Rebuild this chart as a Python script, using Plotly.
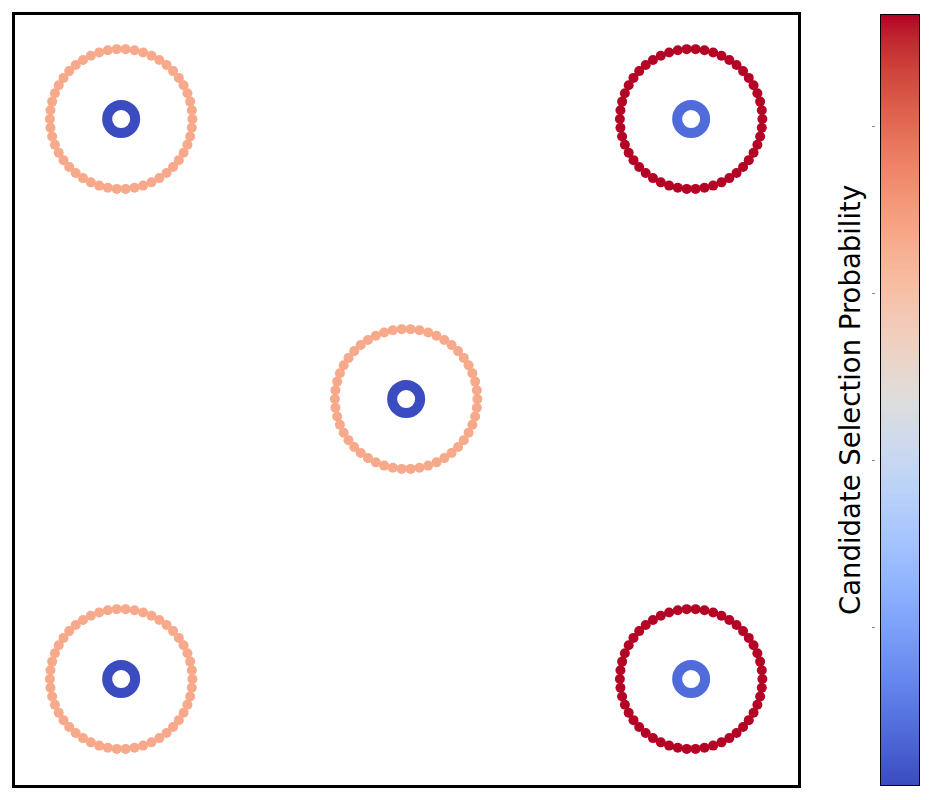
import numpy as np
import plotly.graph_objects as go

# ---- data ----
cluster_x = [-2, 2, 0, -2, 2]
cluster_y = [2, 2, 0, -2, -2]
center_prob = [0.011, 0.076, 0.011, 0.011, 0.076]   # centre marker values
ring_prob = [0.666, 0.934, 0.666, 0.666, 0.934]     # ring candidate values
ring_radius = 0.5
ring_points = 50
vmin, vmax = 0.011, 0.934
cbar_ticks = [0.2, 0.4, 0.6, 0.8]
cbar_title = "Candidate Selection Probability"

coolwarm_data = [
    [0.0, 0.2298057, 0.298717966, 0.753683153],
    [0.03125, 0.26623388, 0.353094838, 0.801466763],
    [0.0625, 0.30386891, 0.406535296, 0.84495867],
    [0.09375, 0.342804478, 0.458757618, 0.883725899],
    [0.125, 0.38301334, 0.50941904, 0.917387822],
    [0.15625, 0.424369608, 0.558148092, 0.945619588],
    [0.1875, 0.46666708, 0.604562568, 0.968154911],
    [0.21875, 0.509635204, 0.648280772, 0.98478814],
    [0.25, 0.552953156, 0.688929332, 0.995375608],
    [0.28125, 0.596262162, 0.726149107, 0.999836203],
    [0.3125, 0.639176211, 0.759599947, 0.998151185],
    [0.34375, 0.681291281, 0.788964712, 0.990363227],
    [0.375, 0.722193294, 0.813952739, 0.976574709],
    [0.40625, 0.761464949, 0.834302879, 0.956945269],
    [0.4375, 0.798691636, 0.849786142, 0.931688648],
    [0.46875, 0.833466556, 0.860207984, 0.901068838],
    [0.5, 0.865395197, 0.86541021, 0.865395561],
    [0.53125, 0.897787179, 0.848937047, 0.820880546],
    [0.5625, 0.924127593, 0.827384882, 0.774508472],
    [0.59375, 0.944468518, 0.800927443, 0.726736146],
    [0.625, 0.958852946, 0.769767752, 0.678007945],
    [0.65625, 0.96732803, 0.734132809, 0.628751763],
    [0.6875, 0.969954137, 0.694266682, 0.579375448],
    [0.71875, 0.966811177, 0.650421156, 0.530263762],
    [0.75, 0.958003065, 0.602842431, 0.481775914],
    [0.78125, 0.943660866, 0.551750968, 0.434243684],
    [0.8125, 0.923944917, 0.49730856, 0.387970225],
    [0.84375, 0.89904617, 0.439559467, 0.343229596],
    [0.875, 0.869186849, 0.378313092, 0.300267182],
    [0.90625, 0.834620542, 0.312874446, 0.259301199],
    [0.9375, 0.795631745, 0.24128379, 0.220525627],
    [0.96875, 0.752534934, 0.157246067, 0.184115123],
    [1.0, 0.705673158, 0.01555616, 0.150232812],
]
coolwarm = [[s, f"rgb({round(r*255)},{round(g*255)},{round(b*255)})"] for s, r, g, b in coolwarm_data]

# ---- build ring point sets ----
theta = np.linspace(0, 2 * np.pi, ring_points, endpoint=False)
rx, ry, rc = [], [], []
for cx, cy, p in zip(cluster_x, cluster_y, ring_prob):
    rx.extend(cx + ring_radius * np.cos(theta))
    ry.extend(cy + ring_radius * np.sin(theta))
    rc.extend([p] * ring_points)

fig = go.Figure()
fig.add_trace(go.Scatter(
    x=rx, y=ry, mode="markers",
    marker=dict(size=10, color=rc, colorscale=coolwarm, cmin=vmin, cmax=vmax,
                line=dict(width=0)),
    showlegend=False, hoverinfo="skip"))
fig.add_trace(go.Scatter(
    x=cluster_x, y=cluster_y, mode="markers",
    marker=dict(symbol="circle-open", size=28, color=center_prob, colorscale=coolwarm,
                cmin=vmin, cmax=vmax, line=dict(width=10)),
    showlegend=False, hoverinfo="skip"))

# colorbar drawn as a heatmap on its own axes
cb_vals = np.linspace(vmin, vmax, 256)
fig.add_trace(go.Heatmap(
    x=[0], y=cb_vals, z=[[v] for v in cb_vals], colorscale=coolwarm,
    zmin=vmin, zmax=vmax, showscale=False, xaxis="x2", yaxis="y2", hoverinfo="skip"))
# tick holder axis
fig.add_trace(go.Scatter(x=[None], y=[None], xaxis="x2", yaxis="y3", showlegend=False))

W, H = 930, 800
fig.update_layout(
    width=W, height=H, margin=dict(l=0, r=0, t=0, b=0),
    paper_bgcolor="white", plot_bgcolor="white",
    font=dict(family="DejaVu Sans"),
    xaxis=dict(domain=[15 / W, 798 / W], range=[-2.745, 2.75], showgrid=False, zeroline=False,
               showticklabels=False, ticks="", showline=True, mirror=True,
               linecolor="black", linewidth=2.6),
    yaxis=dict(domain=[15 / H, 785 / H], range=[-2.757, 2.743], showgrid=False, zeroline=False,
               showticklabels=False, ticks="", showline=True, mirror=True,
               linecolor="black", linewidth=2.6),
    xaxis2=dict(domain=[881 / W, 919 / W], range=[-0.5, 0.5], showgrid=False, zeroline=False,
                showticklabels=False, ticks="", showline=True, mirror=True,
                linecolor="black", linewidth=1, anchor="y2"),
    yaxis2=dict(domain=[15 / H, 785 / H], range=[vmin, vmax], showgrid=False, zeroline=False,
                showticklabels=False, ticks="", showline=True, mirror=True,
                linecolor="black", linewidth=1, anchor="x2"),
    yaxis3=dict(domain=[15 / H, 785 / H], range=[vmin, vmax], showgrid=False, zeroline=False,
                showticklabels=False, ticks="outside", ticklen=3, tickwidth=1,
                tickcolor="#888888", tickvals=cbar_ticks, showline=False,
                anchor="free", position=875 / W, overlaying="y2", side="left"),
    annotations=[dict(text=cbar_title, x=850 / W, y=0.5, xref="paper", yref="paper",
                      xanchor="center", yanchor="middle", textangle=-90, showarrow=False,
                      font=dict(size=27.5, color="black", family="DejaVu Sans"))],
)

fig.write_html("out.html")
